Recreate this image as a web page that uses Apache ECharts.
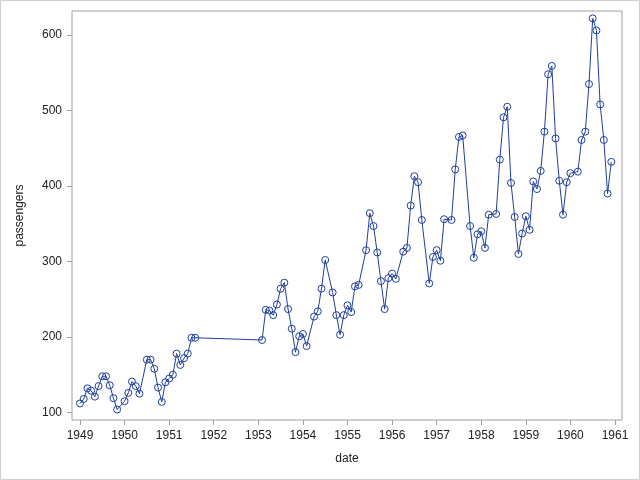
<!DOCTYPE html>
<html>
<head>
<meta charset="utf-8">
<script src="https://cdn.jsdelivr.net/npm/echarts@6/dist/echarts.min.js"></script>
<style>
  html, body { margin: 0; padding: 0; background: #fff; }
  #chart { width: 640px; height: 480px; }
</style>
</head>
<body>
<div id="chart"></div>
<script>
// Monthly observations (some months are missing in the source chart)
const dates = [
  '1949-01','1949-02','1949-03','1949-04','1949-05','1949-06','1949-07','1949-08','1949-09','1949-10','1949-11',
  '1950-01','1950-02','1950-03','1950-04','1950-05','1950-07','1950-08','1950-09','1950-10','1950-11','1950-12',
  '1951-01','1951-02','1951-03','1951-04','1951-05','1951-06','1951-07','1951-08',
  '1953-02','1953-03','1953-04','1953-05','1953-06','1953-07','1953-08','1953-09','1953-10','1953-11','1953-12',
  '1954-01','1954-02','1954-04','1954-05','1954-06','1954-07','1954-09','1954-10','1954-11','1954-12',
  '1955-01','1955-02','1955-03','1955-04','1955-06','1955-07','1955-08','1955-09','1955-10','1955-11','1955-12',
  '1956-01','1956-02','1956-04','1956-05','1956-06','1956-07','1956-08','1956-09','1956-11','1956-12',
  '1957-01','1957-02','1957-03','1957-05','1957-06','1957-07','1957-08','1957-10','1957-11','1957-12',
  '1958-01','1958-02','1958-03','1958-05','1958-06','1958-07','1958-08','1958-09','1958-10','1958-11','1958-12',
  '1959-01','1959-02','1959-03','1959-04','1959-05','1959-06','1959-07','1959-08','1959-09','1959-10','1959-11','1959-12',
  '1960-01','1960-03','1960-04','1960-05','1960-06','1960-07','1960-08','1960-09','1960-10','1960-11','1960-12'
];
const passengers = [
  112,118,132,129,121,135,148,148,136,119,104,
  115,126,141,135,125,170,170,158,133,114,140,
  145,150,178,163,172,178,199,199,
  196,236,235,229,243,264,272,237,211,180,201,
  204,188,227,234,264,302,259,229,203,229,
  242,233,267,269,315,364,347,312,274,237,278,
  284,277,313,318,374,413,405,355,271,306,
  315,301,356,355,422,465,467,347,305,336,
  340,318,362,363,435,491,505,404,359,310,337,
  360,342,406,396,420,472,548,559,463,407,362,405,
  417,419,461,472,535,622,606,508,461,390,432
];
const xTicks = [1949,1950,1951,1952,1953,1954,1955,1956,1957,1958,1959,1960,1961];
const yTicks = [100,200,300,400,500,600];

function toYear(d) {
  const [y, m] = d.split('-').map(Number);
  return y + (m - 1) / 12;
}
const seriesData = dates.map((d, i) => [toYear(d), passengers[i]]);

const blue = '#1f3f9f';
const axisGray = '#a0a0a0';
const textColor = '#222';
const font = 'Liberation Sans, Arial, sans-serif';

const chart = echarts.init(document.getElementById('chart'), null, { renderer: 'canvas' });
chart.setOption({
  animation: false,
  backgroundColor: '#fff',
  graphic: [{
    type: 'rect',
    shape: { x: 0.5, y: 0.5, width: 639, height: 479 },
    style: { fill: 'none', stroke: '#d0d0d0', lineWidth: 1 },
    silent: true
  }],
  grid: {
    left: 72, right: 18, top: 11, bottom: 60,
    show: true, borderColor: axisGray, borderWidth: 1, backgroundColor: 'transparent'
  },
  xAxis: {
    type: 'value',
    min: 1948.8206, max: 1961.157,
    name: 'date', nameLocation: 'middle', nameGap: 33,
    nameTextStyle: { color: textColor, fontSize: 12, fontFamily: font },
    axisLine: { show: false },
    splitLine: { show: false },
    axisTick: { show: true, inside: false, length: 5, lineStyle: { color: axisGray }, customValues: xTicks },
    axisLabel: { color: textColor, fontSize: 12, fontFamily: font, margin: 10, customValues: xTicks,
                 formatter: v => String(Math.round(v)) }
  },
  yAxis: {
    type: 'value',
    min: 90.07, max: 631.8,
    name: 'passengers', nameLocation: 'middle', nameGap: 46,
    nameTextStyle: { color: textColor, fontSize: 12, fontFamily: font },
    axisLine: { show: false },
    splitLine: { show: false },
    axisTick: { show: true, inside: false, length: 5, lineStyle: { color: axisGray }, customValues: yTicks },
    axisLabel: { color: textColor, fontSize: 12, fontFamily: font, margin: 10, customValues: yTicks,
                 formatter: v => String(Math.round(v)) }
  },
  series: [{
    type: 'line',
    data: seriesData,
    symbol: 'circle',
    symbolSize: 7,
    showAllSymbol: true,
    lineStyle: { color: blue, width: 1 },
    itemStyle: { color: 'rgba(0,0,0,0)', borderColor: blue, borderWidth: 1 },
    emphasis: { disabled: true }
  }]
});
</script>
</body>
</html>
